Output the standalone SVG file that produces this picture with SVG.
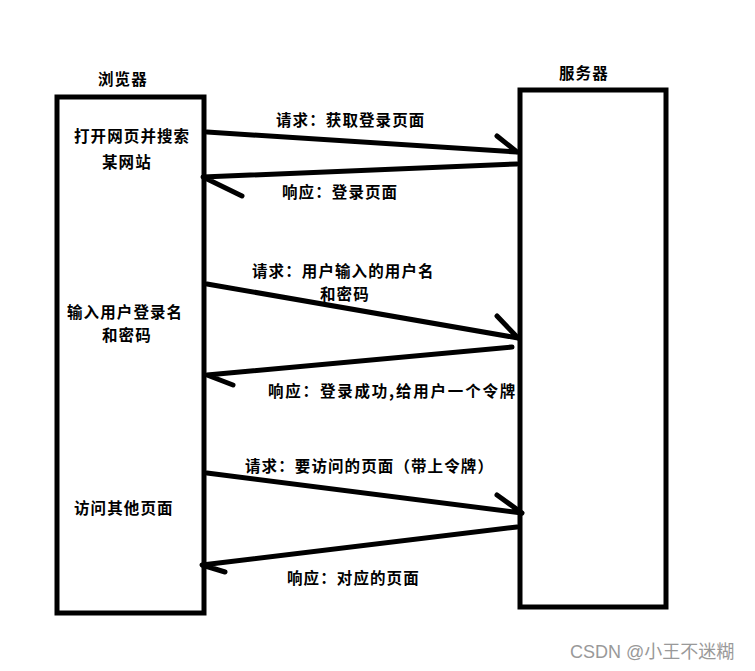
<svg xmlns="http://www.w3.org/2000/svg" width="755" height="671" viewBox="0 0 755 671">
<style>
.box{fill:#fff;stroke:#000;stroke-width:5}
.ln{fill:none;stroke:#000;stroke-width:5;stroke-linecap:round;stroke-linejoin:round}
.t{font-family:"Noto Sans CJK SC","Liberation Sans",sans-serif;font-size:15.5px;font-weight:bold;fill:#000;letter-spacing:1.1px}
.wide{letter-spacing:1.8px}
.wm{font-family:"Liberation Sans","Noto Sans CJK SC",sans-serif;font-size:18px;fill:#999}
</style>
<rect width="755" height="671" fill="#fff"/>
<g id="browser">
<rect class="box" x="57" y="97" width="147" height="516"/>
<text class="t" x="98" y="85">浏览器</text>
<text class="t" x="74" y="142">打开网页并搜索</text>
<text class="t" x="102" y="168">某网站</text>
<text class="t" x="67" y="318">输入用户登录名</text>
<text class="t" x="102" y="341">和密码</text>
<text class="t" x="74" y="514">访问其他页面</text>
</g>
<g id="server">
<rect class="box" x="520" y="90" width="146" height="517"/>
<text class="t" x="559" y="79">服务器</text>
</g>
<g id="connectors">
<g id="req1">
<path class="ln" d="M207 132 L517 152 M497 136 L517 152"/>
<text class="t" x="276" y="126">请求：获取登录页面</text>
</g>
<g id="res1">
<path class="ln" d="M517 164 L203 177 L242 196"/>
<text class="t" x="282" y="198">响应：登录页面</text>
</g>
<g id="req2">
<path class="ln" d="M207 284 L518 338 M497 316 L518 338"/>
<text class="t" x="252" y="277">请求：用户输入的用户名</text>
<text class="t" x="320" y="300">和密码</text>
</g>
<g id="res2">
<path class="ln" d="M512 347 L207 375 L233 385"/>
<text class="t wide" x="268" y="397">响应：登录成功,给用户一个令牌</text>
</g>
<g id="req3">
<path class="ln" d="M207 473 L522 513 M497 495 L522 513"/>
<text class="t" x="245" y="472">请求：要访问的页面（带上令牌）</text>
</g>
<g id="res3">
<path class="ln" d="M517 527 L202 565 L225 572"/>
<text class="t" x="287" y="584">响应：对应的页面</text>
</g>
</g>
<text class="wm" x="570" y="658">CSDN @小王不迷糊</text>
</svg>
